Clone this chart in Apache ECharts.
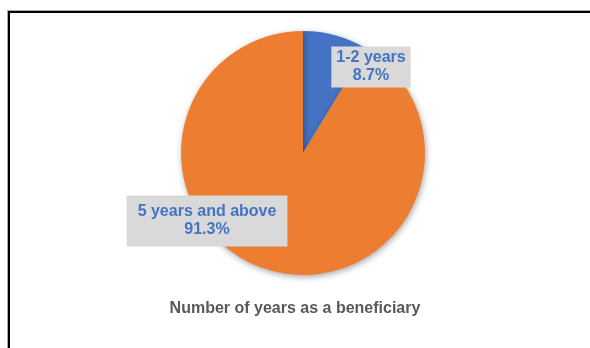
<!DOCTYPE html>
<html lang="en">
<head>
  <meta charset="UTF-8">
  <title>Years as a beneficiary</title>
  <style>
    html, body { margin: 0; padding: 0; background: #fff; }
    #frame {
      position: absolute; left: 8px; top: 11px; width: 600px; height: 360px;
      border-left: 2px solid #000; border-top: 2px solid #000;
      box-shadow: -1px -1px 0 #aaa;
    }
    #main { position: absolute; left: 0; top: 0; width: 590px; height: 348px; }
  </style>
</head>
<body>
<div id="frame"></div>
<div id="main"></div>
<script src="https://cdn.jsdelivr.net/npm/echarts@6/dist/echarts.min.js"></script>
<script type="text/javascript">
  const categories = ['1-2 years', '5 years and above']
  const values = [8.7, 91.3]
  const colors = ['#4472C4', '#ED7D31']
  // label centres (px)
  const labelSpots = [[371, 67], [207, 221]]
  const labelPads = [[3, 5, 2, 5], [8, 11, 7, 11]]

  const Chart = echarts.init(document.getElementById('main'))

  const option = {
    animation: false,
    title: {
      text: 'Number of years as a beneficiary',
      left: 'center',
      top: 296,
      textStyle: {
        fontFamily: 'Liberation Sans, Arial, sans-serif',
        fontSize: 16,
        fontWeight: 'bold',
        color: '#595959'
      }
    },
    series: [{
      type: 'pie',
      center: [303, 153],
      radius: 122,
      startAngle: 90,
      clockwise: true,
      data: categories.map((name, i) => ({
        name: name,
        value: values[i],
        itemStyle: { color: colors[i] },
        label: { padding: labelPads[i] }
      })),
      itemStyle: {
        shadowBlur: 6,
        shadowOffsetX: 1,
        shadowOffsetY: 2,
        shadowColor: 'rgba(0,0,0,0.35)'
      },
      label: {
        show: true,
        position: 'inside',
        formatter: (p) => p.name + '\n' + p.value.toFixed(1) + '%',
        fontFamily: 'Liberation Sans, Arial, sans-serif',
        fontSize: 16,
        fontWeight: 'bold',
        lineHeight: 18,
        color: '#4472C4',
        backgroundColor: '#D9D9D9',
        align: 'center'
      },
      labelLine: { show: false },
      labelLayout: (params) => ({
        x: labelSpots[params.dataIndex][0],
        y: labelSpots[params.dataIndex][1],
        align: 'center',
        verticalAlign: 'middle'
      })
    }]
  }

  Chart.setOption(option)
</script>
</body>
</html>
